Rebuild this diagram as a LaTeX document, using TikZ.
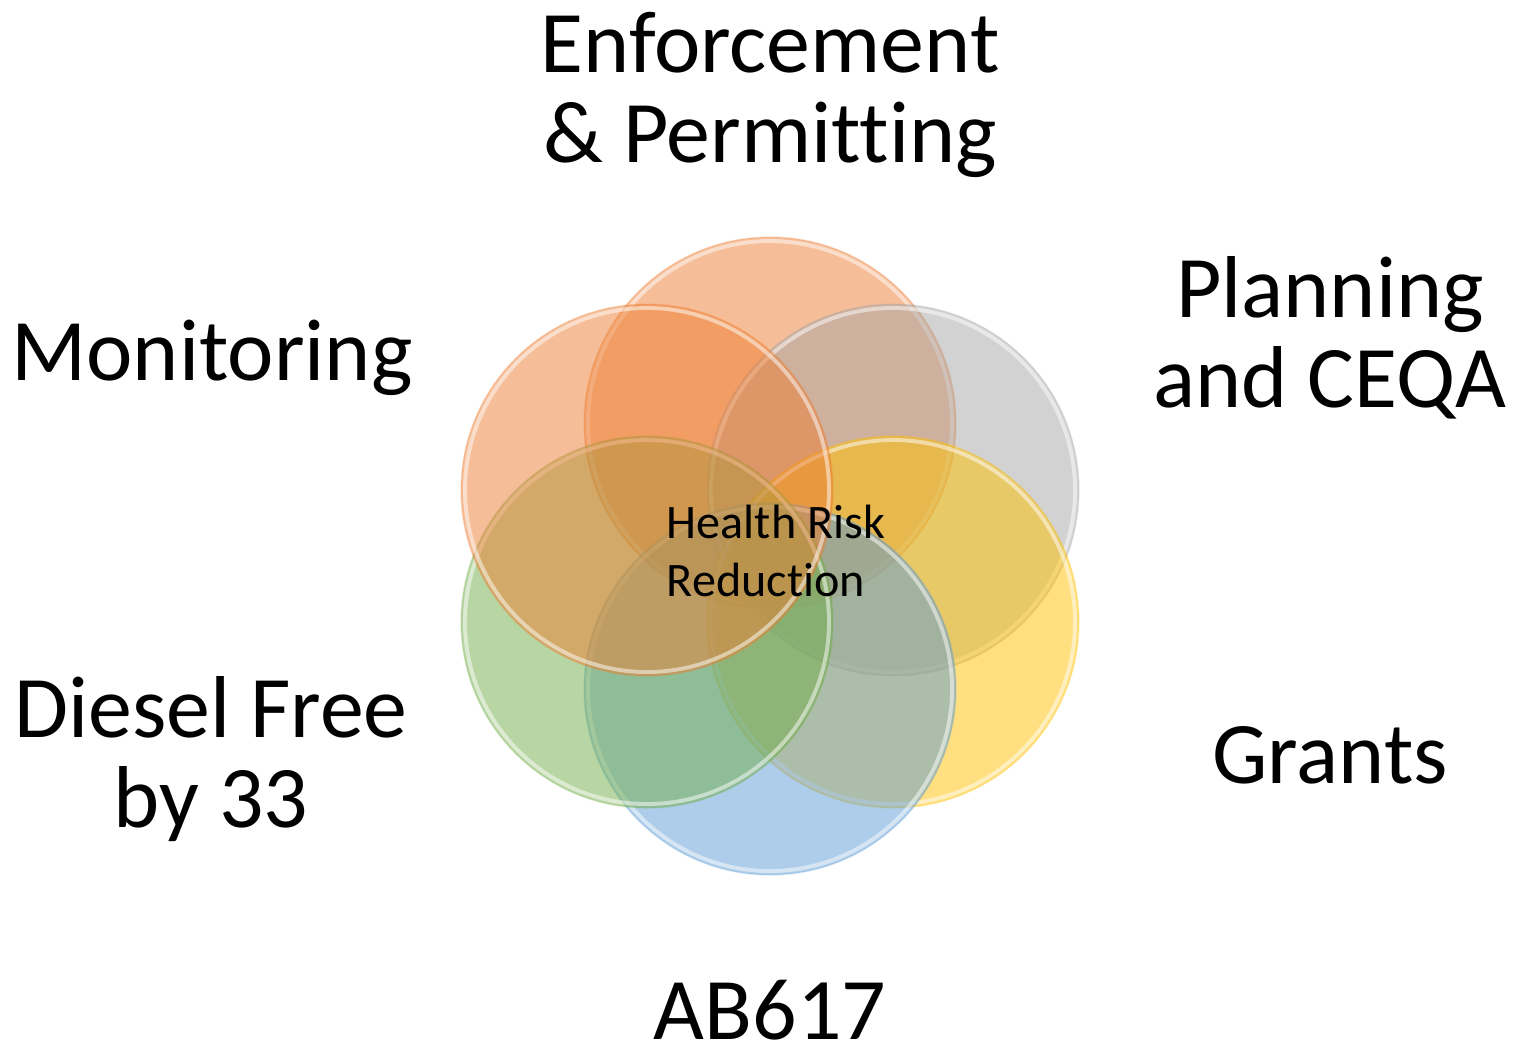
\documentclass[tikz,border=0pt]{standalone}
\usepackage{fontspec}
\setmainfont{Carlito}[Ligatures=NoCommon]
\usepackage{tikz}
\usetikzlibrary{positioning,calc}
\usepackage{xcolor}
\definecolor{ringorange}{RGB}{237,125,49}
\definecolor{ringgray}{RGB}{165,165,165}
\definecolor{ringyellow}{RGB}{255,192,0}
\definecolor{ringblue}{RGB}{91,155,213}
\definecolor{ringgreen}{RGB}{112,173,71}

\begin{document}
\begin{tikzpicture}[
    bubble/.style={fill=#1, fill opacity=0.5, draw=#1, draw opacity=0.2, line width=0.4pt},
    rim/.style={draw=white, draw opacity=0.5, line width=1.1pt},
    biglabel/.style={font=\fontsize{25}{25.5}\selectfont, align=center, inner sep=0pt},
  ]
    \useasboundingbox (0,0) rectangle (15.25,-10.5);

    % centre of the flower
    \coordinate (hub) at (7.70,-5.56);

    % Circles, one per programme (drawing order sets the overlap tints)
    \draw[bubble=ringorange] ($(hub)+(0,1.33)$) circle (1.86cm);
    \draw[rim] ($(hub)+(0,1.33)$) circle (1.82cm);
    \draw[bubble=ringgray] ($(hub)+(1.23,0.66)$) circle (1.86cm);
    \draw[rim] ($(hub)+(1.23,0.66)$) circle (1.82cm);
    \draw[bubble=ringyellow] ($(hub)+(1.23,-0.66)$) circle (1.86cm);
    \draw[rim] ($(hub)+(1.23,-0.66)$) circle (1.82cm);
    \draw[bubble=ringblue] ($(hub)+(0,-1.33)$) circle (1.86cm);
    \draw[rim] ($(hub)+(0,-1.33)$) circle (1.82cm);
    \draw[bubble=ringgreen] ($(hub)+(-1.23,-0.66)$) circle (1.86cm);
    \draw[rim] ($(hub)+(-1.23,-0.66)$) circle (1.82cm);
    \draw[bubble=ringorange] ($(hub)+(-1.23,0.66)$) circle (1.86cm);
    \draw[rim] ($(hub)+(-1.23,0.66)$) circle (1.82cm);

    % Centre text
    \node[font=\fontsize{13.7}{16.5}\selectfont, align=left, inner sep=0pt] (health) at (7.76,-5.51) {Health Risk\\Reduction};

    % Outer labels
    \node[biglabel] (enforce) at (7.70,-0.95) {Enforcement\\\& Permitting};
    \node[biglabel] (planning) at (13.30,-3.38) {Planning\\and CEQA};
    \node[biglabel] (grants) at (13.30,-7.55) {Grants};
    \node[biglabel] (ab) at (7.70,-10.10) {AB617};
    \node[biglabel] (diesel) at (2.11,-7.59) {Diesel Free\\by 33};
    \node[biglabel] (monitor) at (2.12,-3.58) {Monitoring};
\end{tikzpicture}
\end{document}
